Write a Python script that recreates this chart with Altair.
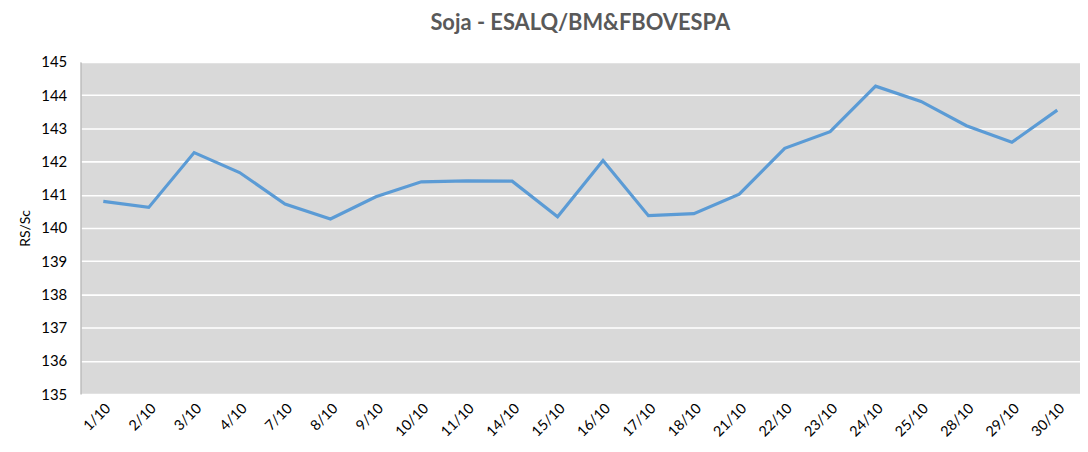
import altair as alt
import pandas as pd

dates = ["1/10", "2/10", "3/10", "4/10", "7/10", "8/10", "9/10", "10/10", "11/10", "14/10",
         "15/10", "16/10", "17/10", "18/10", "21/10", "22/10", "23/10", "24/10", "25/10",
         "28/10", "29/10", "30/10"]
prices = [140.80, 140.62, 142.27, 141.67, 140.72, 140.27, 140.94, 141.39, 141.42, 141.41,
          140.34, 142.03, 140.37, 140.43, 141.02, 142.40, 142.90, 144.27, 143.81,
          143.08, 142.58, 143.55]
y_ticks = list(range(135, 146))

df = pd.DataFrame({"data": dates, "preco": prices})

chart = alt.Chart(df).mark_line(color="#5b9bd5", strokeWidth=3.2).encode(
    x=alt.X("data:O", sort=dates, title=None,
            axis=alt.Axis(labelAngle=-45, labelFontSize=14.5, labelColor="#000000",
                          labelFont="Lato", ticks=False, domain=False, labelPadding=7)),
    y=alt.Y("preco:Q", title="RS/Sc", scale=alt.Scale(domain=[135, 145], nice=False, zero=False),
            axis=alt.Axis(values=y_ticks, labelFontSize=15, labelColor="#000000", labelFont="Lato",
                          titleFont="Lato", titleFontSize=14, titleFontWeight="normal",
                          titleColor="#000000", titlePadding=8, labelPadding=14, ticks=False,
                          domain=True, domainColor="#bfbfbf", domainWidth=1.5,
                          grid=True, gridColor="#ffffff", gridWidth=1.6)),
).properties(
    width=1005,
    height=334,
    padding={"left": 10, "top": 3, "right": 0, "bottom": 5},
    title=alt.TitleParams("Soja - ESALQ/BM&FBOVESPA", font="Lato", fontSize=22, fontWeight="bold",
                          color="#595959", anchor="middle", offset=20),
).configure_view(
    fill="#d9d9d9", stroke=None
)

chart.save("out.html", embed_options={"renderer": "svg", "actions": False})
